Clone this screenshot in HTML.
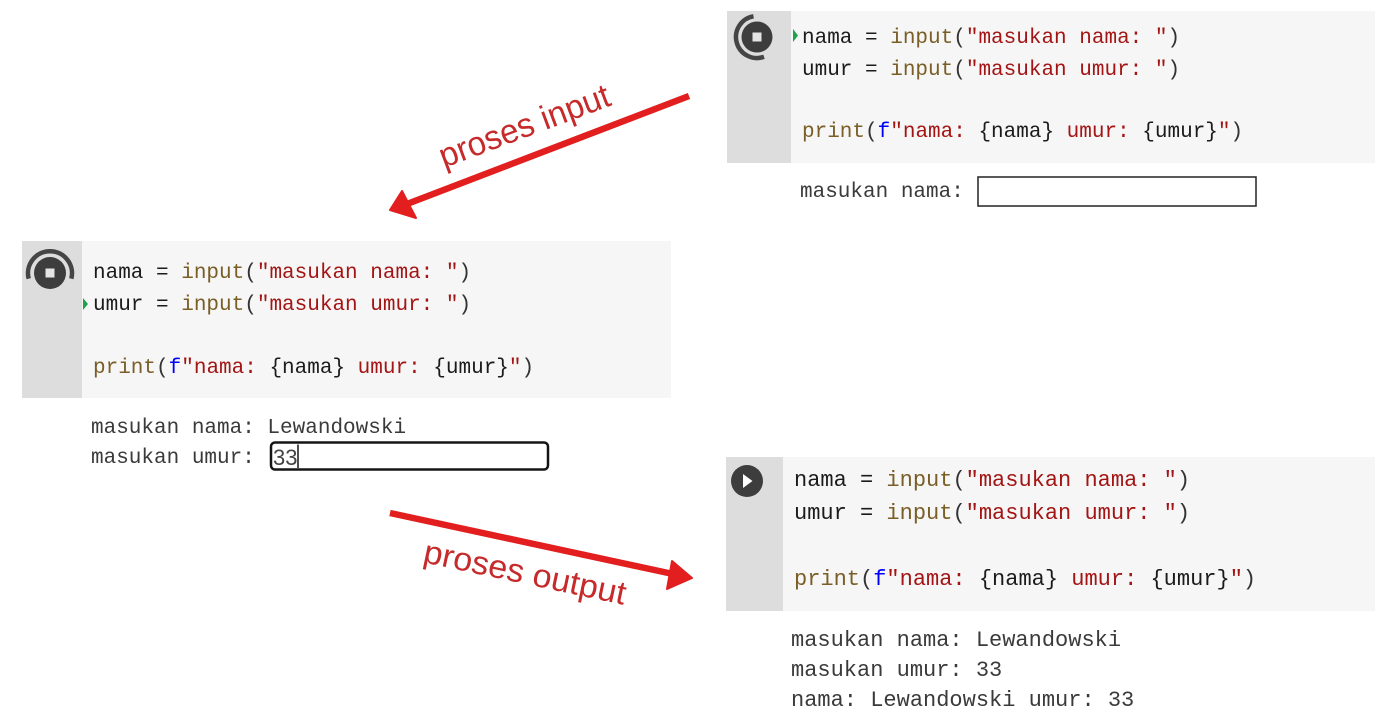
<!DOCTYPE html>
<html>
<head>
<meta charset="utf-8">
<style>
  html, body { margin: 0; padding: 0; background: #ffffff; }
  body { width: 1400px; height: 727px; overflow: hidden; }
  svg { display: block; }
  .code { font-family: "Liberation Mono", "DejaVu Sans Mono", monospace; white-space: pre; }
  .lbl { font-family: "Liberation Sans", "DejaVu Sans", sans-serif; }
</style>
</head>
<body>
<svg width="1400" height="727" viewBox="0 0 1400 727" xmlns="http://www.w3.org/2000/svg">
  <rect x="0" y="0" width="1400" height="727" fill="#ffffff"/>

  <!-- ============ CELL 1 (top right) ============ -->
  <rect x="727" y="11" width="648" height="152" fill="#f6f6f6"/>
  <rect x="727" y="11" width="64" height="152" fill="#dddddd"/>
  <circle cx="757" cy="37" r="15.5" fill="#3d3d3d"/>
  <rect x="752.5" y="32.5" width="9" height="9" fill="#e4e4e4"/>
  <path d="M 753.5 16.3 A 21 21 0 1 0 764 56.8" fill="none" stroke="#454545" stroke-width="4.5"/>
  <polygon points="793,29 798,35.5 793,42" fill="#1ea34d"/>
  <g class="code" font-size="21">
    <text x="802" y="43"><tspan fill="#1b1b1b">nama = </tspan><tspan fill="#795e26">input</tspan><tspan fill="#333">(</tspan><tspan fill="#a31515">"masukan nama: "</tspan><tspan fill="#333">)</tspan></text>
    <text x="802" y="75"><tspan fill="#1b1b1b">umur = </tspan><tspan fill="#795e26">input</tspan><tspan fill="#333">(</tspan><tspan fill="#a31515">"masukan umur: "</tspan><tspan fill="#333">)</tspan></text>
    <text x="802" y="137"><tspan fill="#795e26">print</tspan><tspan fill="#333">(</tspan><tspan fill="#0000ff">f</tspan><tspan fill="#a31515">"nama: </tspan><tspan fill="#1b1b1b">{nama}</tspan><tspan fill="#a31515"> umur: </tspan><tspan fill="#1b1b1b">{umur}</tspan><tspan fill="#a31515">"</tspan><tspan fill="#333">)</tspan></text>
    <text x="800" y="197" fill="#3a3a3a">masukan nama: </text>
  </g>
  <rect x="978" y="177" width="278" height="29" fill="#ffffff" stroke="#222" stroke-width="1.5"/>

  <!-- ============ CELL 2 (left) ============ -->
  <rect x="22" y="241" width="649" height="157" fill="#f6f6f6"/>
  <rect x="22" y="241" width="60" height="157" fill="#dddddd"/>
  <circle cx="50" cy="273" r="16" fill="#3d3d3d"/>
  <rect x="45.5" y="268.5" width="9" height="9" fill="#e4e4e4"/>
  <path d="M 28.7 278.7 A 22 22 0 1 1 71.3 278.7" fill="none" stroke="#454545" stroke-width="4.5"/>
  <polygon points="83,298 88,304 83,310" fill="#1ea34d"/>
  <g class="code" font-size="21">
    <text x="93" y="278"><tspan fill="#1b1b1b">nama = </tspan><tspan fill="#795e26">input</tspan><tspan fill="#333">(</tspan><tspan fill="#a31515">"masukan nama: "</tspan><tspan fill="#333">)</tspan></text>
    <text x="93" y="310"><tspan fill="#1b1b1b">umur = </tspan><tspan fill="#795e26">input</tspan><tspan fill="#333">(</tspan><tspan fill="#a31515">"masukan umur: "</tspan><tspan fill="#333">)</tspan></text>
    <text x="93" y="373"><tspan fill="#795e26">print</tspan><tspan fill="#333">(</tspan><tspan fill="#0000ff">f</tspan><tspan fill="#a31515">"nama: </tspan><tspan fill="#1b1b1b">{nama}</tspan><tspan fill="#a31515"> umur: </tspan><tspan fill="#1b1b1b">{umur}</tspan><tspan fill="#a31515">"</tspan><tspan fill="#333">)</tspan></text>
    <text x="91" y="433" fill="#3a3a3a">masukan nama: Lewandowski</text>
    <text x="91" y="463" fill="#3a3a3a">masukan umur: </text>
  </g>
  <rect x="271" y="442.5" width="277" height="27" rx="4" ry="4" fill="#ffffff" stroke="#151515" stroke-width="2.5"/>
  <text x="273" y="465" class="lbl" font-size="22" fill="#444">33</text>
  <line x1="298" y1="444.5" x2="298" y2="468" stroke="#151515" stroke-width="1.5"/>

  <!-- ============ CELL 3 (bottom right) ============ -->
  <rect x="726" y="457" width="649" height="154" fill="#f6f6f6"/>
  <rect x="726" y="457" width="57" height="154" fill="#dddddd"/>
  <circle cx="747" cy="481" r="16" fill="#3d3d3d"/>
  <polygon points="743,474 743,488 752.5,481" fill="#ffffff"/>
  <g class="code" font-size="22">
    <text x="794" y="486"><tspan fill="#1b1b1b">nama = </tspan><tspan fill="#795e26">input</tspan><tspan fill="#333">(</tspan><tspan fill="#a31515">"masukan nama: "</tspan><tspan fill="#333">)</tspan></text>
    <text x="794" y="519"><tspan fill="#1b1b1b">umur = </tspan><tspan fill="#795e26">input</tspan><tspan fill="#333">(</tspan><tspan fill="#a31515">"masukan umur: "</tspan><tspan fill="#333">)</tspan></text>
    <text x="794" y="585"><tspan fill="#795e26">print</tspan><tspan fill="#333">(</tspan><tspan fill="#0000ff">f</tspan><tspan fill="#a31515">"nama: </tspan><tspan fill="#1b1b1b">{nama}</tspan><tspan fill="#a31515"> umur: </tspan><tspan fill="#1b1b1b">{umur}</tspan><tspan fill="#a31515">"</tspan><tspan fill="#333">)</tspan></text>
    <text x="791" y="646" fill="#3a3a3a">masukan nama: Lewandowski</text>
    <text x="791" y="676" fill="#3a3a3a">masukan umur: 33</text>
    <text x="791" y="706" fill="#3a3a3a">nama: Lewandowski umur: 33</text>
  </g>

  <!-- ============ ARROWS ============ -->
  <line x1="689" y1="96" x2="407" y2="204" stroke="#e21e1e" stroke-width="6.5"/>
  <polygon points="390,210 402,191 416,218" fill="#e21e1e" stroke="#e21e1e" stroke-width="2" stroke-linejoin="round"/>
  <text class="lbl" x="444" y="168" font-size="34" fill="#c62a2a" textLength="180" lengthAdjust="spacingAndGlyphs" transform="rotate(-20.5 444 168)">proses input</text>

  <line x1="390" y1="513" x2="673" y2="574" stroke="#e21e1e" stroke-width="6.5"/>
  <polygon points="692,578 672,561 667,589" fill="#e21e1e" stroke="#e21e1e" stroke-width="2" stroke-linejoin="round"/>
  <text class="lbl" x="422" y="562" font-size="33" fill="#c62a2a" textLength="206" lengthAdjust="spacingAndGlyphs" transform="rotate(12 422 562)">proses output</text>
</svg>
</body>
</html>
